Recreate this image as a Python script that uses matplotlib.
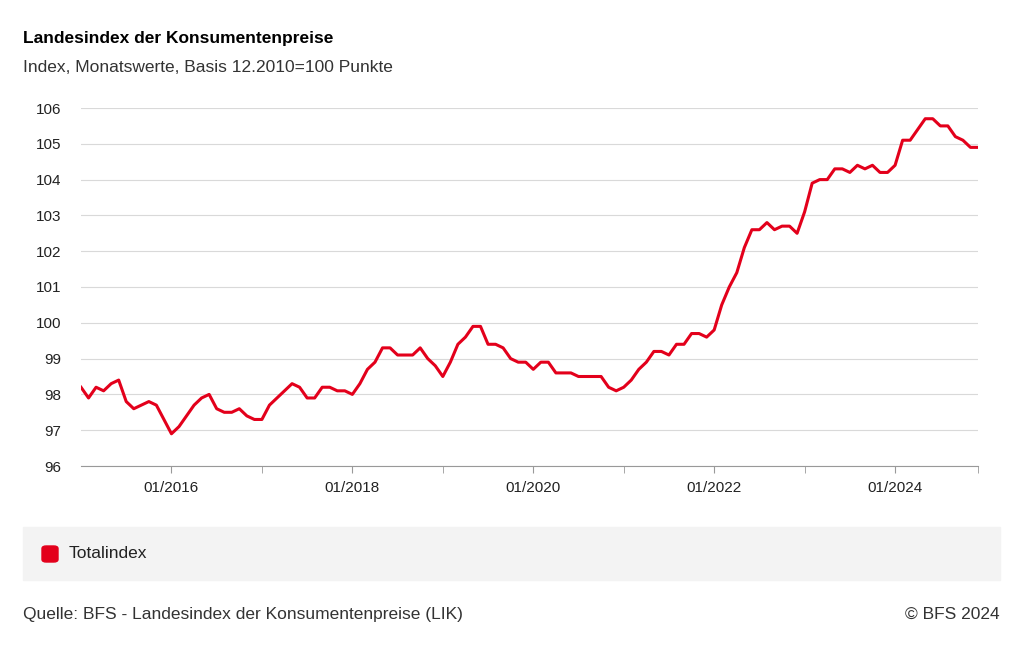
import matplotlib.pyplot as plt
import matplotlib.patches as mpatches
import numpy as np

plt.rcParams['font.family'] = ['Liberation Sans', 'DejaVu Sans']

start_year = 2015
values = [
    98.2, 97.9, 98.2, 98.1, 98.3, 98.4, 97.8, 97.6, 97.7, 97.8, 97.7, 97.3,
    96.9, 97.1, 97.4, 97.7, 97.9, 98.0, 97.6, 97.5, 97.5, 97.6, 97.4, 97.3,
    97.3, 97.7, 97.9, 98.1, 98.3, 98.2, 97.9, 97.9, 98.2, 98.2, 98.1, 98.1,
    98.0, 98.3, 98.7, 98.9, 99.3, 99.3, 99.1, 99.1, 99.1, 99.3, 99.0, 98.8,
    98.5, 98.9, 99.4, 99.6, 99.9, 99.9, 99.4, 99.4, 99.3, 99.0, 98.9, 98.9,
    98.7, 98.9, 98.9, 98.6, 98.6, 98.6, 98.5, 98.5, 98.5, 98.5, 98.2, 98.1,
    98.2, 98.4, 98.7, 98.9, 99.2, 99.2, 99.1, 99.4, 99.4, 99.7, 99.7, 99.6,
    99.8, 100.5, 101.0, 101.4, 102.1, 102.6, 102.6, 102.8, 102.6, 102.7, 102.7, 102.5,
    103.1, 103.9, 104.0, 104.0, 104.3, 104.3, 104.2, 104.4, 104.3, 104.4, 104.2, 104.2,
    104.4, 105.1, 105.1, 105.4, 105.7, 105.7, 105.5, 105.5, 105.2, 105.1, 104.9, 104.9,
]
label_years = [2016, 2018, 2020, 2022, 2024]
tick_labels = [f"01/{y}" for y in label_years]

red = '#e3001b'
x = np.arange(len(values))

fig = plt.figure(figsize=(10.24, 6.51), dpi=100)
ax = fig.add_axes([81/1024, 1-466/651, (978-81)/1024, (466-108)/651])
ax.plot(x, values, color=red, lw=2.2, solid_joinstyle='round')
ax.set_xlim(0, len(values) - 1)
ax.set_ylim(96, 106)
ax.set_yticks(range(96, 107))
ax.set_xticks([(y - start_year) * 12 for y in label_years])
ax.set_xticklabels(tick_labels)
ax.set_xticks([(y - start_year) * 12 for y in range(2016, 2025)] + [len(values) - 1], minor=True)
ax.grid(axis='y', color='#d9d9d9', lw=0.8)
ax.set_axisbelow(True)
for s in ['top', 'right', 'left']:
    ax.spines[s].set_visible(False)
ax.spines['bottom'].set_color('#999999')
ax.tick_params(axis='y', length=0, labelsize=11, pad=14, colors='#222222')
ax.tick_params(axis='x', which='both', length=5, color='#999999', labelsize=11, colors='#222222', pad=6)

fig.text(23/1024, 1-38/651, 'Landesindex der Konsumentenpreise', fontsize=12.5, fontweight='bold', va='center')
fig.text(23/1024, 1-67/651, 'Index, Monatswerte, Basis 12.2010=100 Punkte', fontsize=12.5, va='center', color='#333333')

fig.patches.append(mpatches.Rectangle((23/1024, 1-580/651), 977/1024, 53/651,
                                      transform=fig.transFigure, color='#f3f3f3', zorder=0))
fig.patches.append(mpatches.FancyBboxPatch((42/1024, 1-562/651), 16/1024, 16/651,
                                           boxstyle='round,pad=0,rounding_size=0.004',
                                           transform=fig.transFigure, color=red))
fig.text(69/1024, 1-554/651, 'Totalindex', fontsize=12.5, va='center', color='#222222')

fig.text(23/1024, 1-614/651, 'Quelle: BFS - Landesindex der Konsumentenpreise (LIK)', fontsize=12.5, va='center', color='#333333')
fig.text(1000/1024, 1-614/651, '© BFS 2024', fontsize=12.5, va='center', ha='right', color='#333333')

fig.savefig('out.png', dpi=100)
